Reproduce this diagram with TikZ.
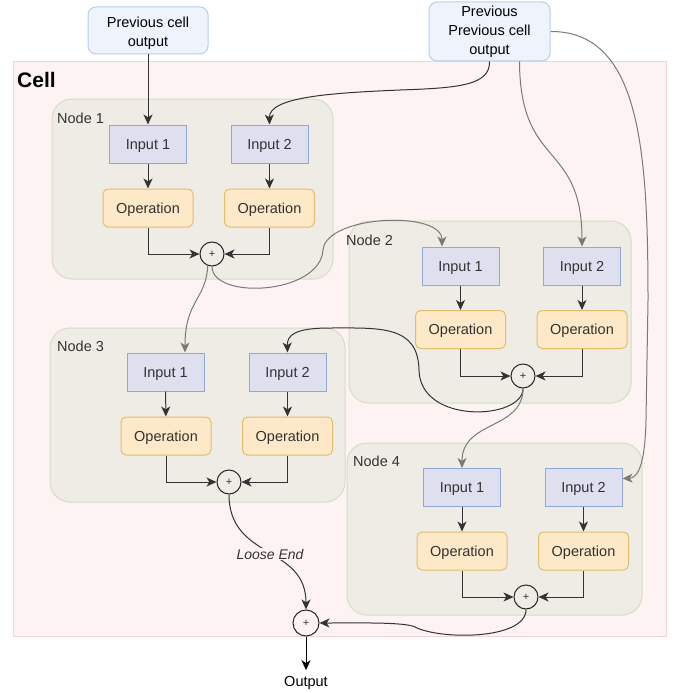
\documentclass[tikz,border=0pt]{standalone}
\usepackage{fontspec}
\setmainfont{Liberation Sans}
\usetikzlibrary{arrows.meta}
\definecolor{cellfill}{HTML}{FDF3F3}
\definecolor{cellstroke}{HTML}{F3D3D3}
\definecolor{contfill}{HTML}{EFECE6}
\definecolor{contstroke}{HTML}{D5DEC2}
\definecolor{infill}{HTML}{DEE0F0}
\definecolor{instroke}{HTML}{92A7D2}
\definecolor{opfill}{HTML}{FDE8C8}
\definecolor{opstroke}{HTML}{E0BE6C}
\definecolor{topfill}{HTML}{EEF3FC}
\definecolor{topstroke}{HTML}{B8CDEA}
\definecolor{txt}{HTML}{333333}
\definecolor{garrow}{HTML}{7A7A74}
\begin{document}
\begin{tikzpicture}[x=1pt,y=-1pt,
  lbl/.style={font=\fontsize{14.5}{19}\selectfont},
  topbox/.style={draw=topstroke, fill=topfill, rounded corners=8pt, line width=1pt, align=center, lbl, text=black, inner sep=0pt},
  container/.style={draw=contstroke, fill=contfill, rounded corners=20pt, line width=1pt, inner sep=0pt},
  inbox/.style={draw=instroke, fill=infill, line width=1pt, minimum width=77pt, minimum height=38pt, inner sep=0pt, lbl, text=txt, text height=11pt, text depth=1pt},
  opbox/.style={draw=opstroke, fill=opfill, rounded corners=5pt, line width=1pt, minimum width=90pt, minimum height=38pt, inner sep=0pt, lbl, text=txt, text height=11pt, text depth=1pt},
  plusc/.style={circle, draw=black!85, line width=1pt, minimum size=24pt, inner sep=0pt, font=\fontsize{11}{13}\selectfont, text=txt},
  nodelabel/.style={anchor=west, lbl, text=txt, inner sep=0pt},
  arrowtip/.style={-{Stealth[length=10pt,width=9pt,inset=2.8pt]}},
  conn/.style={draw=txt, line width=1pt, arrowtip},
  gconn/.style={draw=garrow, line width=1pt, arrowtip}
]
\useasboundingbox (0,0) rectangle (675,693);

% Cell
\node[draw=cellstroke, fill=cellfill, line width=1pt, minimum width=653pt, minimum height=574pt, inner sep=0pt] (cell) at (339.5,349) {};
\node[anchor=west, inner sep=0pt, font=\fontsize{21}{24}\bfseries\selectfont] (celllbl) at (17,80) {Cell};

% top boxes
\node[topbox, minimum width=120pt, minimum height=47pt, text height=33pt, text depth=0pt] (pc) at (148,30.5) {Previous cell\\output};
\node[topbox, minimum width=121pt, minimum height=59pt, text height=47pt, text depth=0pt] (pp) at (489.5,31.5) {Previous\\Previous cell\\output};

% containers
\node[container, minimum width=281pt, minimum height=180pt] (c1) at (192.5,189) {};
\node[container, minimum width=282pt, minimum height=182pt] (c2) at (490,312) {};
\node[container, minimum width=295pt, minimum height=174pt] (c3) at (197.5,415) {};
\node[container, minimum width=295pt, minimum height=172pt] (c4) at (494.5,529) {};
\node[nodelabel] (l1) at (57,118) {Node 1};
\node[nodelabel] (l2) at (346,240) {Node 2};
\node[nodelabel] (l3) at (57,346) {Node 3};
\node[nodelabel] (l4) at (353,461) {Node 4};

% Node 1
\node[inbox] (n1i1) at (148,144) {Input 1};
\node[inbox] (n1i2) at (269.5,144) {Input 2};
\node[opbox] (n1o1) at (148,208) {Operation};
\node[opbox] (n1o2) at (269.5,208) {Operation};
\node[plusc] (n1p) at (212,254) {+};
% Node 2
\node[inbox] (n2i1) at (460.5,266) {Input 1};
\node[inbox] (n2i2) at (582,266) {Input 2};
\node[opbox] (n2o1) at (460.5,329.5) {Operation};
\node[opbox] (n2o2) at (582,329.5) {Operation};
\node[plusc] (n2p) at (523,376) {+};
% Node 3
\node[inbox] (n3i1) at (165.5,372) {Input 1};
\node[inbox] (n3i2) at (287.5,372) {Input 2};
\node[opbox] (n3o1) at (166,436) {Operation};
\node[opbox] (n3o2) at (287.5,436) {Operation};
\node[plusc] (n3p) at (229,482) {+};
% Node 4
\node[inbox] (n4i1) at (462,487.5) {Input 1};
\node[inbox] (n4i2) at (583.5,487.5) {Input 2};
\node[opbox] (n4o1) at (462,551) {Operation};
\node[opbox] (n4o2) at (583.5,551) {Operation};
\node[plusc] (n4p) at (526,597) {+};

% final
\node[plusc, minimum size=26pt] (fp) at (306,623) {+};
\node[lbl, text=black, inner xsep=0pt, inner ysep=6pt] (out) at (306,683) {Output};

% inner node flows
\foreach \k in {1,2,3,4}{
  \draw[conn] (n\k i1) -- (n\k o1);
  \draw[conn] (n\k i2) -- (n\k o2);
  \draw[conn] (n\k o1.south) |- (n\k p.west);
  \draw[conn] (n\k o2.south) |- (n\k p.east);
}

% inputs from previous cells
\draw[conn] (pc.south) -- (n1i1.north);
\draw[conn] (pp.south) .. controls (490,85) and (460,88) .. (400,90)
   .. controls (330,93) and (269,97) .. (n1i2.north);
\draw[gconn] ([xshift=30pt]pp.south) .. controls (520,170) and (582,140) .. (n2i2.north);
\draw[gconn] (pp.east) .. controls (640,31) and (648,150) .. (648,300)
   -- (646,420) .. controls (645,470) and (636,478) .. ([yshift=9pt]n4i2.east);

% node to node
\draw[gconn] (n1p.south) .. controls (212,300) and (320,295) .. (323,250)
   .. controls (326,215) and (442,210) .. ([xshift=-18.5pt]n2i1.north);
\draw[gconn] (n1p.250) .. controls (206,300) and (185,300) .. ([xshift=19.5pt]n3i1.north);
\draw[conn] (n2p.south) .. controls (523,420) and (420,425) .. (419,370)
   .. controls (418,325) and (380,328) .. (330,328)
   .. controls (295,328) and (287,335) .. (n3i2.north);
\draw[gconn] (n2p.south) .. controls (523,430) and (462,420) .. (n4i1.north);

% to final
\draw[conn] (n3p.south) .. controls (229,560) and (306,545) .. (fp.north);
\node[fill=cellfill, inner sep=1pt, font=\fontsize{14}{16}\itshape\selectfont, text=txt] (loose) at (270,554) {Loose End};
\draw[conn] (n4p.south) .. controls (526,640) and (440,640) .. (415,627)
   .. controls (405,622) and (360,623) .. (fp.east);
\draw[draw=black, line width=1pt, arrowtip] (fp.south) -- (out.north);
\end{tikzpicture}
\end{document}
